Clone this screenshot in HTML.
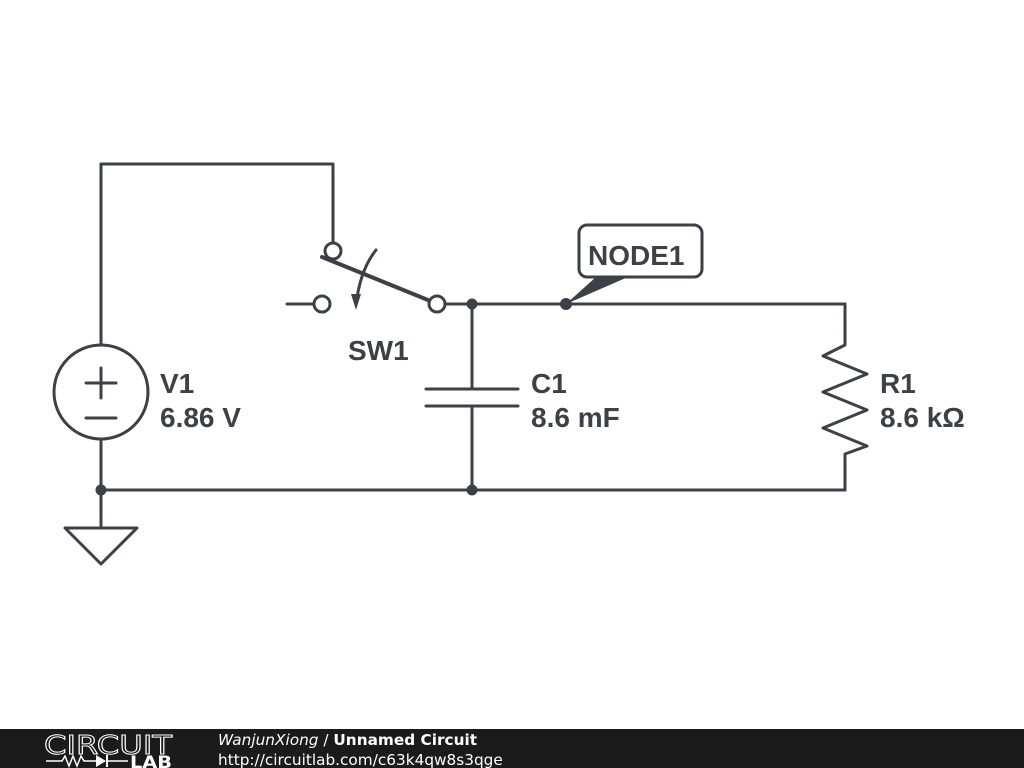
<!DOCTYPE html>
<html><head><meta charset="utf-8"><style>
html,body{margin:0;padding:0;background:#fff;width:1024px;height:768px;overflow:hidden}
</style></head><body>
<svg width="1024" height="768" viewBox="0 0 1024 768" xmlns="http://www.w3.org/2000/svg">
<g stroke="#3b4146" stroke-width="3" fill="none" stroke-linecap="round" stroke-linejoin="round">
<polyline points="101,345 101,164 333,164 333,243"/>
<circle cx="101" cy="392" r="47"/>
<line x1="86" y1="383" x2="116" y2="383"/>
<line x1="101" y1="368" x2="101" y2="398"/>
<line x1="86" y1="418" x2="116" y2="418"/>
<line x1="101" y1="439" x2="101" y2="527"/>
<polygon points="65,528 137,528 101,564"/>
<line x1="101" y1="490" x2="845" y2="490"/>
<circle cx="333" cy="251" r="8" fill="#fff"/>
<circle cx="322" cy="304" r="8" fill="#fff"/>
<line x1="287" y1="304" x2="314" y2="304"/>
<circle cx="437" cy="304" r="8" fill="#fff"/>
<line x1="322" y1="257" x2="428" y2="300" stroke-width="4"/>
<path d="M376,250 Q360,270 356,305"/>
<line x1="445" y1="304" x2="845" y2="304"/>
<line x1="472" y1="304" x2="472" y2="389"/>
<line x1="426" y1="389" x2="518" y2="389"/>
<line x1="426" y1="406" x2="518" y2="406"/>
<line x1="472" y1="406" x2="472" y2="490"/>
<polyline points="845,304 845,345 823,356 867,374 823,392 867,410 823,428 867,446 845,454 845,490"/>
<rect x="579" y="225" width="123" height="52" rx="8" fill="#fff"/>
</g>
<polygon points="351,294 361,294 356,310" fill="#3b4146"/>
<polygon points="566,304 596,277 628,277" fill="#3b4146"/>
<g fill="#3b4146">
<circle cx="101" cy="490" r="5.5"/>
<circle cx="472" cy="490" r="5.5"/>
<circle cx="472" cy="304" r="5.5"/>
<circle cx="566" cy="304" r="6"/>
</g>
<g font-family="Liberation Sans, sans-serif" font-weight="bold" font-size="28" fill="#3b4146">
<text x="588" y="265">NODE1</text>
<text x="348" y="360">SW1</text>
<text x="160" y="393">V1</text>
<text x="160" y="427">6.86 V</text>
<text x="531" y="393">C1</text>
<text x="531" y="427">8.6 mF</text>
<text x="880" y="393">R1</text>
<text x="880" y="427">8.6 kΩ</text>
</g>
<rect x="0" y="729" width="1024" height="39" fill="#1b1b1b"/>
<g fill="#fff" font-family="DejaVu Sans, sans-serif">
<text x="44" y="754" font-size="26" fill="none" stroke="#fff" stroke-width="1" textLength="128" lengthAdjust="spacingAndGlyphs">CIRCUIT</text>
<text x="130" y="768" font-size="17" font-weight="bold" textLength="42" lengthAdjust="spacingAndGlyphs">LAB</text>
<polyline points="46,761 62,761 65,756 69,766 73,756 77,766 81,756 84,761 96,761" stroke="#fff" stroke-width="1.5" fill="none"/>
<polygon points="96,755 96,767 106,761" fill="#fff"/>
<line x1="107" y1="755" x2="107" y2="767" stroke="#fff" stroke-width="2"/>
<line x1="107" y1="761" x2="128" y2="761" stroke="#fff" stroke-width="1.5"/>
<text x="218" y="745" font-size="15.3"><tspan font-style="italic">WanjunXiong</tspan> / <tspan font-weight="bold">Unnamed Circuit</tspan></text>
<text x="218" y="765" font-size="15.3">http://circuitlab.com/c63k4qw8s3qge</text>
</g>
</svg>
</body></html>
